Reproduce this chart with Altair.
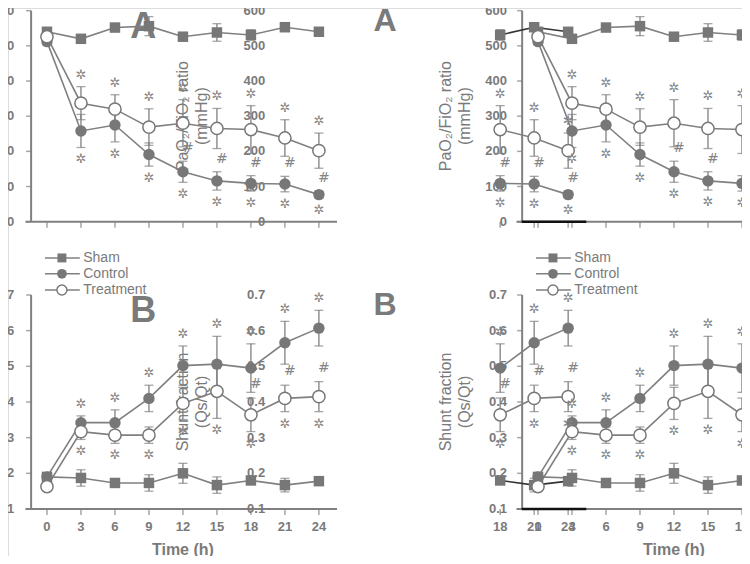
import altair as alt
import pandas as pd

# ---------------- data ----------------
time_h = [0, 3, 6, 9, 12, 15, 18, 21, 24]
series_names = ["Sham", "Control", "Treatment"]

pf_sham = [540, 520, 552, 556, 526, 538, 531, 553, 540]
pf_sham_err = [8, 6, 10, 27, 10, 25, 15, 12, 8]
pf_control = [512, 258, 275, 191, 142, 116, 109, 107, 77]
pf_control_err = [10, 47, 48, 33, 30, 26, 22, 22, 10]
pf_treatment = [526, 337, 320, 269, 280, 265, 262, 238, 202]
pf_treatment_err = [8, 47, 41, 52, 67, 57, 68, 52, 50]

qs_sham = [0.19, 0.187, 0.173, 0.173, 0.20, 0.167, 0.18, 0.167, 0.178]
qs_sham_err = [0.01, 0.023, 0.01, 0.023, 0.028, 0.023, 0.01, 0.019, 0.005]
qs_control = [0.19, 0.342, 0.342, 0.41, 0.502, 0.506, 0.495, 0.566, 0.607]
qs_control_err = [0.01, 0.019, 0.036, 0.037, 0.055, 0.078, 0.068, 0.06, 0.05]
qs_treatment = [0.163, 0.317, 0.307, 0.307, 0.396, 0.43, 0.364, 0.41, 0.415]
qs_treatment_err = [0.01, 0.022, 0.023, 0.023, 0.045, 0.076, 0.047, 0.037, 0.042]

pf_ticks = [0, 100, 200, 300, 400, 500, 600]
pf_tick_labels = ["0", "100", "200", "300", "400", "500", "600"]
qs_ticks = [0.1, 0.2, 0.3, 0.4, 0.5, 0.6, 0.7]
qs_tick_labels = ["0.1", "0.2", "0.3", "0.4", "0.5", "0.6", "0.7"]
x_tick_labels = ["0", "3", "6", "9", "12", "15", "18", "21", "24"]

pf_title = "PaO₂/FiO₂ ratio\n(mmHg)"
qs_title = "Shunt fraction\n(Qs/Qt)"
x_title = "Time (h)"
panel_letters = ["A", "B"]
star_symbol = "✲"
hash_symbol = "#"

star_times = [3, 6, 9, 12, 15, 18, 21, 24]
pf_hash_times = [12, 15, 18, 21, 24]
qs_hash_times = [18, 21, 24]

# ---------------- layout / style ----------------
W, H = 734, 548
PX_PER_H = 11.33
X_DOMAIN = [-3.44, -3.44 + W / PX_PER_H]
PF_DOMAIN = [-950.5, 607.6]
QS_DOMAIN = [-0.0318, 1.5045]
COPIES = {"L": 0.0, "M": 22.0, "R": 43.34}
M_FROM = 18
YAXIS_AT = -1.4
XAXIS_FROM, XAXIS_TO = -1.9, 25.6
YLABEL_AT = {"L": -2.9, "M": -2.74, "R": -2.74}
YTITLE_AT = {"M": -10.0, "R": -8.08}
LETTER_AT = -13.5
LETTER_STYLE = {"M": (36, 16), "R": (32, 10)}
M_BLACK_FROM = 19.9
LEG_LINE = (-0.18, 2.9)
LEG_MARK = 1.32
LEG_TEXT = 3.2
LEG_ROWS = [-103, -148, -194]

GRAY = "#808080"
TXT = "#7a7a7a"
FONT = "Liberation Sans"


def xs(field):
    return alt.X(f"{field}:Q", scale=alt.Scale(domain=X_DOMAIN, nice=False, zero=False), axis=None)


def ys(field, dom):
    return alt.Y(f"{field}:Q", scale=alt.Scale(domain=dom, nice=False, zero=False), axis=None)


def series_frame(values, errs):
    rows = []
    for name, vals, es in zip(series_names, values, errs):
        for t, v, e in zip(time_h, vals, es):
            for c, off in COPIES.items():
                if c == "M" and t < M_FROM:
                    continue
                rows.append(dict(series=name, copy=c, t=t, x=t + off, v=v, lo=v - e, hi=v + e))
    return pd.DataFrame(rows)


def annot_frame(sdf, above_series, below_series, hash_series, hash_times):
    rows = []
    for c in COPIES:
        sub = sdf[sdf["copy"] == c]
        for t in star_times:
            if c == "M" and t < M_FROM:
                continue
            a = sub[(sub.series == above_series) & (sub.t == t)].iloc[0]
            b = sub[(sub.series == below_series) & (sub.t == t)].iloc[0]
            rows.append(dict(kind="above", x=a.x, y=a.hi, sym=star_symbol))
            rows.append(dict(kind="below", x=b.x, y=b.lo, sym=star_symbol))
        for t in hash_times:
            if c == "M" and t < M_FROM:
                continue
            h = sub[(sub.series == hash_series) & (sub.t == t)].iloc[0]
            rows.append(dict(kind="hash", x=h.x, y=h.hi, sym=hash_symbol))
    return pd.DataFrame(rows)


def panel(values, errs, dom, ticks, tick_labels, title, letter, bottom, above_s, below_s, hash_s, hash_times):
    sdf = series_frame(values, errs)
    adf = annot_frame(sdf, above_s, below_s, hash_s, hash_times)
    ymin, ymax = ticks[0], ticks[-1]
    layers = []

    ax_rows, ytick_rows, ylab_rows, xtick_rows, xlab_rows = [], [], [], [], []
    for c, off in COPIES.items():
        if c != "M":
            ax_rows.append(dict(x=YAXIS_AT + off, x2=YAXIS_AT + off, y=ymin, y2=ymax))
            ax_rows.append(dict(x=XAXIS_FROM + off, x2=XAXIS_TO + off, y=ymin, y2=ymin))
            for tv in ticks:
                ytick_rows.append(dict(x=YAXIS_AT + off, y=tv))
        for tv, tl in zip(ticks, tick_labels):
            ylab_rows.append(dict(x=YLABEL_AT[c] + off, y=tv, label=tl))
        for t, tl in zip(time_h, x_tick_labels):
            if c == "M" and t < M_FROM:
                continue
            xtick_rows.append(dict(x=t + off, y=ymin))
            xlab_rows.append(dict(x=t + off, y=ymin, label=tl))
    axdf = pd.DataFrame(ax_rows)
    layers.append(alt.Chart(axdf).mark_rule(color=GRAY, strokeWidth=2).encode(
        x=xs("x"), x2="x2:Q", y=ys("y", dom), y2="y2:Q"))
    layers.append(alt.Chart(pd.DataFrame(ytick_rows)).mark_tick(
        orient="horizontal", size=5, thickness=1.5, xOffset=-2.5, color=GRAY).encode(x=xs("x"), y=ys("y", dom)))
    layers.append(alt.Chart(pd.DataFrame(xtick_rows)).mark_tick(
        orient="vertical", size=6, thickness=1.5, yOffset=3, color=GRAY).encode(x=xs("x"), y=ys("y", dom)))
    mblack = pd.DataFrame([dict(x=M_BLACK_FROM + COPIES["M"], x2=XAXIS_TO + COPIES["M"], y=ymin)])
    layers.append(alt.Chart(mblack).mark_rule(color="#111", strokeWidth=2.5).encode(
        x=xs("x"), x2="x2:Q", y=ys("y", dom)))
    layers.append(alt.Chart(pd.DataFrame(ylab_rows)).mark_text(
        align="right", baseline="middle", font=FONT, fontSize=13, fontWeight="bold", color=TXT).encode(
        x=xs("x"), y=ys("y", dom), text="label:N"))
    if bottom:
        layers.append(alt.Chart(pd.DataFrame(xlab_rows)).mark_text(
            align="center", baseline="middle", dy=18, font=FONT, fontSize=13, fontWeight="bold", color=TXT).encode(
            x=xs("x"), y=ys("y", dom), text="label:N"))
        xt = pd.DataFrame([dict(x=12 + COPIES[c], y=ymin, label=x_title) for c in ("L", "R")])
        layers.append(alt.Chart(xt).mark_text(
            align="center", baseline="middle", dy=41, font=FONT, fontSize=16, fontWeight="bold", color=TXT).encode(
            x=xs("x"), y=ys("y", dom), text="label:N"))

    tdf = pd.DataFrame([dict(x=YTITLE_AT[c] + COPIES[c], y=(ymin + ymax) / 2, label=title) for c in ("M", "R")])
    layers.append(alt.Chart(tdf).mark_text(
        align="center", baseline="middle", angle=270, lineBreak="\n", lineHeight=19,
        font=FONT, fontSize=16, color=TXT).encode(x=xs("x"), y=ys("y", dom), text="label:N"))
    for c in ("M", "R"):
        fs, dy = LETTER_STYLE[c]
        ldf = pd.DataFrame([dict(x=LETTER_AT + COPIES[c], y=ymax, label=letter)])
        layers.append(alt.Chart(ldf).mark_text(
            align="center", baseline="middle", dy=dy, font=FONT, fontSize=fs, fontWeight="bold", color=TXT).encode(
            x=xs("x"), y=ys("y", dom), text="label:N"))

    base = alt.Chart(sdf)
    layers.append(base.transform_filter("!(datum.copy == 'M' && datum.series == 'Sham')").mark_line(
        color=GRAY, strokeWidth=1.6).encode(
        x=xs("x"), y=ys("v", dom), detail=["series:N", "copy:N"], order="t:Q"))
    layers.append(base.transform_filter("datum.copy == 'M' && datum.series == 'Sham'").mark_line(
        color="#333", strokeWidth=1.6).encode(
        x=xs("x"), y=ys("v", dom), detail=["series:N", "copy:N"], order="t:Q"))
    layers.append(base.mark_rule(color=GRAY, strokeWidth=1.3).encode(x=xs("x"), y=ys("lo", dom), y2="hi:Q"))
    for f in ("lo", "hi"):
        layers.append(base.mark_tick(orient="horizontal", size=9, thickness=1.3, color=GRAY).encode(
            x=xs("x"), y=ys(f, dom)))
    layers.append(base.transform_filter("datum.series == 'Sham'").mark_square(
        size=110, color="#777", opacity=1).encode(x=xs("x"), y=ys("v", dom)))
    layers.append(base.transform_filter("datum.series == 'Control'").mark_circle(
        size=130, color="#777", opacity=1).encode(x=xs("x"), y=ys("v", dom)))
    layers.append(base.transform_filter("datum.series == 'Treatment'").mark_point(
        shape="circle", size=150, filled=True, fill="white", stroke="#777", strokeWidth=1.5, opacity=1).encode(
        x=xs("x"), y=ys("v", dom)))

    for kind, dy, dx, fs in (("above", -12, 0, 13), ("below", 12, 0, 13),
                             ("hash", -13 if not bottom else -14, 5, 14)):
        layers.append(alt.Chart(adf).transform_filter(f"datum.kind == '{kind}'").mark_text(
            align="center", baseline="middle", dy=dy, dx=dx,
            font="DejaVu Sans", fontSize=fs, color="#858585").encode(
            x=xs("x"), y=ys("y", dom), text="sym:N"))
    return layers


top_layers = panel([pf_sham, pf_control, pf_treatment], [pf_sham_err, pf_control_err, pf_treatment_err],
                   PF_DOMAIN, pf_ticks, pf_tick_labels, pf_title, panel_letters[0], False,
                   "Treatment", "Control", "Control", pf_hash_times)

leg_rows = []
for c in ("L", "R"):
    off = COPIES[c]
    for name, yv in zip(series_names, LEG_ROWS):
        leg_rows.append(dict(series=name, x0=LEG_LINE[0] + off, x1=LEG_LINE[1] + off,
                             xm=LEG_MARK + off, xt=LEG_TEXT + off, y=yv))
legdf = pd.DataFrame(leg_rows)
lb = alt.Chart(legdf)
top_layers += [
    lb.mark_rule(color=GRAY, strokeWidth=1.6).encode(x=xs("x0"), x2="x1:Q", y=ys("y", PF_DOMAIN)),
    lb.transform_filter("datum.series == 'Sham'").mark_square(size=80, color="#777", opacity=1).encode(
        x=xs("xm"), y=ys("y", PF_DOMAIN)),
    lb.transform_filter("datum.series == 'Control'").mark_circle(size=95, color="#777", opacity=1).encode(
        x=xs("xm"), y=ys("y", PF_DOMAIN)),
    lb.transform_filter("datum.series == 'Treatment'").mark_point(
        shape="circle", size=100, filled=True, fill="white", stroke="#777", strokeWidth=1.4, opacity=1).encode(
        x=xs("xm"), y=ys("y", PF_DOMAIN)),
    lb.mark_text(align="left", baseline="middle", font=FONT, fontSize=14, color=TXT).encode(
        x=xs("xt"), y=ys("y", PF_DOMAIN), text="series:N"),
]

bottom_layers = panel([qs_sham, qs_control, qs_treatment], [qs_sham_err, qs_control_err, qs_treatment_err],
                      QS_DOMAIN, qs_ticks, qs_tick_labels, qs_title, panel_letters[1], True,
                      "Control", "Treatment", "Treatment", qs_hash_times)

chart = alt.layer(alt.layer(*top_layers), alt.layer(*bottom_layers)).resolve_scale(
    y="independent"
).properties(
    width=W, height=H, padding=0, autosize=alt.AutoSizeParams(type="none")
).configure_view(stroke="transparent", strokeWidth=0).configure(background="white")

chart.save("out.html", embed_options={"renderer": "svg", "actions": False})
